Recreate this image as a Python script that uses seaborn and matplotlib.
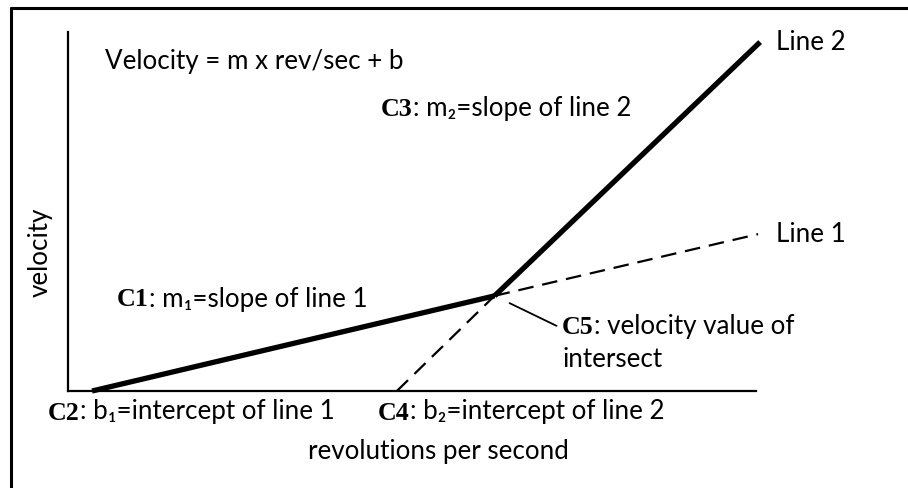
import matplotlib
matplotlib.use('Agg')
import matplotlib.pyplot as plt
import seaborn as sns
import pandas as pd
from matplotlib.lines import Line2D

# line 1: intercept b1 -> intersection -> end (solid then dashed)
line1_x = [3.5, 62.0, 100.3]
line1_y = [0.0, 26.5, 43.7]
# line 2: intercept b2 -> intersection -> end (dashed then solid)
line2_x = [47.8, 62.0, 100.6]
line2_y = [0.0, 26.5, 97.2]

line_labels = ["Line 1", "Line 2"]
x_label = "revolutions per second"
y_label = "velocity"
equation = "Velocity = m x rev/sec + b"

W, H = 908, 489
sns.set_style("white")
plt.rcParams['font.family'] = ['Lato', 'DejaVu Sans']
plt.rcParams['text.color'] = 'black'

fig = plt.figure(figsize=(W / 100, H / 100), dpi=100)
ax = fig.add_axes([68 / W, 1 - 392 / H, (756 - 68) / W, (392 - 33) / H])
ax.set_xlim(0, 100)
ax.set_ylim(0, 100)
for s in ["top", "right"]:
    ax.spines[s].set_visible(False)
for s in ["left", "bottom"]:
    ax.spines[s].set_linewidth(1.6)
    ax.spines[s].set_color("black")
ax.set_xticks([])
ax.set_yticks([])

seg1 = pd.DataFrame({"x": line1_x, "y": line1_y})
seg2 = pd.DataFrame({"x": line2_x, "y": line2_y})

# solid parts
sns.lineplot(data=seg1.iloc[:2], x="x", y="y", ax=ax, color="black", lw=3.8,
             solid_capstyle="butt", clip_on=False)
sns.lineplot(data=seg2.iloc[1:], x="x", y="y", ax=ax, color="black", lw=3.8,
             solid_capstyle="butt", clip_on=False)
# dashed parts
sns.lineplot(data=seg1.iloc[1:], x="x", y="y", ax=ax, color="black", lw=1.6,
             clip_on=False).lines[-1].set_dashes((7, 4))
sns.lineplot(data=seg2.iloc[:2], x="x", y="y", ax=ax, color="black", lw=1.6,
             clip_on=False).lines[-1].set_dashes((7, 4))
ax.set_xlabel("")
ax.set_ylabel("")

# outer frame (left and top edges)
fig.add_artist(Line2D([11 / W, 11 / W], [0, 1 - 9 / H], color="black", lw=2.2,
                      transform=fig.transFigure))
fig.add_artist(Line2D([11 / W, 1], [1 - 9 / H, 1 - 9 / H], color="black", lw=2.2,
                      transform=fig.transFigure))

FS = 18.7


def px(x, y):
    return x / W, 1 - y / H


def label(x, y, bold, rest):
    t = fig.text(*px(x, y), bold, fontsize=FS, fontweight="bold",
                 family=["Liberation Serif"], va="center", ha="left")
    ax.annotate(rest, xy=(1, 0), xycoords=t, va="bottom", ha="left",
                fontsize=FS, color="black")


fig.text(*px(105, 62), equation, fontsize=FS, va="center", ha="left")
label(381, 110, "C3", ": m\u2082=slope of line 2")
label(117, 300, "C1", ": m\u2081=slope of line 1")
label(48, 413, "C2", ": b\u2081=intercept of line 1")
label(378, 413, "C4", ": b\u2082=intercept of line 2")
label(562, 328, "C5", ": velocity value of")
fig.text(*px(562, 360), "intersect", fontsize=FS, va="center", ha="left")

fig.text(*px(776, 43), line_labels[1], fontsize=FS, va="center", ha="left")
fig.text(*px(776, 235), line_labels[0], fontsize=FS, va="center", ha="left")
fig.text(*px(438, 452), x_label, fontsize=FS, va="center", ha="center")
fig.text(*px(40, 252), y_label, fontsize=FS, va="center", ha="center", rotation=90)

# leader for C5
ax.annotate("", xy=(line1_x[1], line1_y[1]), xytext=(62, -30), textcoords="offset pixels",
            arrowprops=dict(arrowstyle="-", color="black", lw=1.3, shrinkA=0, shrinkB=12))

fig.savefig("out.png", dpi=100, facecolor="white")
